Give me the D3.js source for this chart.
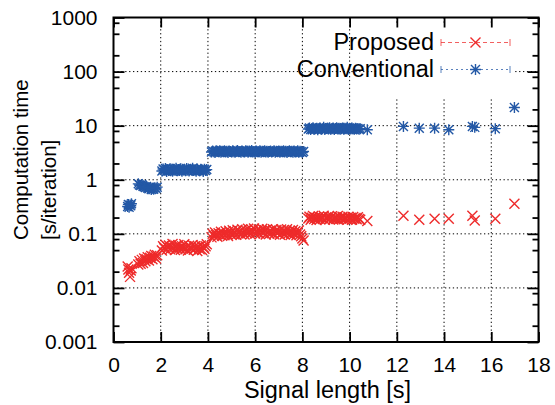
<!DOCTYPE html>
<html>
<head>
<meta charset="utf-8">
<script src="https://cdn.jsdelivr.net/npm/d3@7"></script>
<style>
    body { margin: 0; background: #fff; }
    svg { font-family: "Liberation Sans", Arial, sans-serif; }
</style>
</head>
<body>
<svg id="chart" width="555" height="405"></svg>
<script>
// Signal lengths [s] shared by both methods.
var signalLength = [
    0.6, 0.63, 0.66, 0.7, 0.73, 0.76,
    1.05, 1.1, 1.15, 1.2, 1.25, 1.3, 1.35, 1.4, 1.45, 1.5, 1.55, 1.6, 1.65, 1.7, 1.75, 1.8, 1.85,
    2.05, 2.1, 2.15, 2.2, 2.25, 2.3, 2.35, 2.4, 2.45, 2.5,
    2.55, 2.6, 2.65, 2.7, 2.75, 2.8, 2.85, 2.9, 2.95, 3.0,
    3.05, 3.1, 3.15, 3.2, 3.25, 3.3, 3.35, 3.4, 3.45, 3.5,
    3.55, 3.6, 3.65, 3.7, 3.75, 3.8, 3.85, 3.9, 3.95,
    4.15, 4.2, 4.25, 4.3, 4.35, 4.4, 4.45, 4.5, 4.55, 4.6,
    4.65, 4.7, 4.75, 4.8, 4.85, 4.9, 4.95, 5.0, 5.05, 5.1,
    5.15, 5.2, 5.25, 5.3, 5.35, 5.4, 5.45, 5.5, 5.55, 5.6,
    5.65, 5.7, 5.75, 5.8, 5.85, 5.9, 5.95, 6.0, 6.05, 6.1,
    6.15, 6.2, 6.25, 6.3, 6.35, 6.4, 6.45, 6.5, 6.55, 6.6,
    6.65, 6.7, 6.75, 6.8, 6.85, 6.9, 6.95, 7.0, 7.05, 7.1,
    7.15, 7.2, 7.25, 7.3, 7.35, 7.4, 7.45, 7.5, 7.55, 7.6,
    7.65, 7.7, 7.75, 7.8, 7.85, 7.9, 7.95, 8.0, 8.05,
    8.25, 8.3, 8.35, 8.4, 8.45, 8.5, 8.55, 8.6, 8.65, 8.7,
    8.75, 8.8, 8.85, 8.9, 8.95, 9.0, 9.05, 9.1, 9.15, 9.2,
    9.25, 9.3, 9.35, 9.4, 9.45, 9.5, 9.55, 9.6, 9.65, 9.7,
    9.75, 9.8, 9.85, 9.9, 9.95, 10.0, 10.05, 10.1, 10.15, 10.2,
    10.25, 10.3, 10.35, 10.4, 10.45, 10.75,
    12.28, 12.95, 13.6, 14.2, 15.2, 15.3, 16.17, 16.98
];

// Computation time [s/iteration], proposed method.
var proposedTime = [
    0.025, 0.022, 0.019, 0.016, 0.021, 0.023,
    0.027, 0.031, 0.028, 0.033, 0.029, 0.035, 0.031, 0.034, 0.037, 0.032, 0.036, 0.039, 0.034, 0.038, 0.041, 0.035, 0.040,
    0.049, 0.059, 0.054, 0.063, 0.051, 0.057, 0.061, 0.052, 0.056, 0.065,
    0.055, 0.050, 0.060, 0.053, 0.062, 0.056, 0.051, 0.059, 0.054, 0.064,
    0.052, 0.058, 0.049, 0.060, 0.056, 0.053, 0.062, 0.051, 0.059, 0.055,
    0.048, 0.058, 0.052, 0.061, 0.050, 0.057, 0.053, 0.059, 0.064,
    0.086, 0.100, 0.091, 0.106, 0.095, 0.088, 0.103, 0.097, 0.109, 0.092,
    0.104, 0.094, 0.112, 0.099, 0.091, 0.114, 0.102, 0.095, 0.117, 0.098,
    0.108, 0.096, 0.119, 0.103, 0.112, 0.098, 0.122, 0.106, 0.097, 0.116,
    0.102, 0.124, 0.108, 0.098, 0.119, 0.110, 0.126, 0.101, 0.115, 0.105,
    0.120, 0.099, 0.112, 0.124, 0.103, 0.116, 0.097, 0.121, 0.108, 0.100,
    0.115, 0.104, 0.122, 0.098, 0.110, 0.118, 0.101, 0.113, 0.096, 0.120,
    0.104, 0.117, 0.097, 0.109, 0.121, 0.100, 0.113, 0.095, 0.107, 0.118,
    0.099, 0.112, 0.094, 0.106, 0.115, 0.097, 0.090, 0.082, 0.075,
    0.192, 0.207, 0.183, 0.198, 0.213, 0.188, 0.201, 0.181, 0.196, 0.209,
    0.186, 0.202, 0.194, 0.216, 0.182, 0.199, 0.190, 0.206, 0.187, 0.197,
    0.211, 0.184, 0.195, 0.203, 0.189, 0.214, 0.185, 0.200, 0.193, 0.207,
    0.187, 0.201, 0.194, 0.183, 0.208, 0.191, 0.198, 0.182, 0.204, 0.190,
    0.197, 0.186, 0.202, 0.189, 0.183, 0.172,
    0.216, 0.183, 0.190, 0.190, 0.215, 0.177, 0.190, 0.360
];

// Computation time [s/iteration], conventional method.
var conventionalTime = [
    0.32, 0.35, 0.31, 0.34, 0.33, 0.36,
    0.84, 0.80, 0.78, 0.82, 0.76, 0.74, 0.72, 0.75, 0.70, 0.68, 0.72, 0.66, 0.70, 0.67, 0.71, 0.69, 0.73,
    1.45, 1.58, 1.50, 1.62, 1.42, 1.55, 1.48, 1.60, 1.52, 1.44,
    1.57, 1.50, 1.63, 1.46, 1.54, 1.49, 1.59, 1.43, 1.52, 1.56,
    1.47, 1.61, 1.50, 1.45, 1.55, 1.51, 1.64, 1.48, 1.53, 1.44,
    1.58, 1.50, 1.46, 1.56, 1.52, 1.42, 1.57, 1.49, 1.54,
    3.25, 3.40, 3.30, 3.20, 3.45, 3.35, 3.28, 3.42, 3.22, 3.38,
    3.30, 3.45, 3.25, 3.35, 3.20, 3.40, 3.32, 3.27, 3.44, 3.30,
    3.22, 3.38, 3.46, 3.28, 3.34, 3.21, 3.40, 3.30, 3.26, 3.43,
    3.35, 3.24, 3.41, 3.30, 3.47, 3.26, 3.33, 3.20, 3.39, 3.31,
    3.28, 3.44, 3.23, 3.36, 3.30, 3.42, 3.25, 3.38, 3.21, 3.34,
    3.40, 3.27, 3.32, 3.45, 3.24, 3.36, 3.29, 3.41, 3.22, 3.35,
    3.30, 3.43, 3.26, 3.38, 3.20, 3.33, 3.44, 3.28, 3.36, 3.23,
    3.39, 3.25, 3.31, 3.42, 3.22, 3.35, 3.28, 3.18, 3.33,
    8.7, 9.1, 8.5, 8.9, 9.2, 8.6, 8.8, 9.0, 8.4, 8.9,
    9.1, 8.6, 8.8, 9.3, 8.5, 8.9, 9.0, 8.7, 9.2, 8.6,
    8.8, 9.1, 8.5, 8.9, 9.2, 8.7, 9.0, 8.6, 8.8, 9.1,
    8.6, 9.0, 8.8, 9.3, 8.5, 8.9, 8.7, 9.1, 8.8, 8.6,
    9.0, 8.7, 8.9, 8.6, 8.8, 8.4,
    9.7, 9.0, 9.0, 8.4, 9.7, 9.3, 8.8, 21.7
];

var xTicks = [0, 2, 4, 6, 8, 10, 12, 14, 16, 18];
var yTicks = [0.001, 0.01, 0.1, 1, 10, 100, 1000];
var yTickLabels = ["0.001", "0.01", "0.1", "1", "10", "100", "1000"];
var yMinorTicks = [0.002, 0.005, 0.008, 0.02, 0.05, 0.08, 0.2, 0.5, 0.8,
    2, 5, 8, 20, 50, 80, 200, 500, 800];

var seriesNames = ["Proposed", "Conventional"];
var red = "#ee2b2b";
var blue = "#2358a6";

var plotLeft = 113.5, plotRight = 538.5, plotTop = 17.5, plotBottom = 342;

var svg = d3.select("#chart");
var x = d3.scaleLinear().domain([0, 18]).range([plotLeft, plotRight]);
var y = d3.scaleLog().domain([0.001, 1000]).range([plotBottom, plotTop]);

// Dotted grid.
var grid = svg.append("g")
    .attr("stroke", "#000")
    .attr("stroke-width", 1)
    .attr("stroke-dasharray", "1.3,2.6");
grid.selectAll("line.gx")
    .data(xTicks.slice(1, -1))
    .enter().append("line")
    .attr("x1", d => x(d)).attr("x2", d => x(d))
    .attr("y1", plotTop).attr("y2", plotBottom);
grid.selectAll("line.gy")
    .data(yTicks.slice(1, -1))
    .enter().append("line")
    .attr("x1", plotLeft).attr("x2", plotRight)
    .attr("y1", d => y(d)).attr("y2", d => y(d));

// Opaque key box hides the grid behind the samples.
svg.append("rect")
    .attr("x", 378).attr("y", 25)
    .attr("width", 136).attr("height", 73)
    .attr("fill", "#fff");

function axisStyle(g) {
    g.select(".domain").remove();
    g.selectAll(".tick line").attr("stroke", "#000").attr("stroke-width", 1.8);
    g.selectAll(".tick text")
        .attr("fill", "#000")
        .attr("font-family", "Liberation Sans, Arial, sans-serif")
        .attr("font-size", 21);
}

svg.append("g")
    .attr("transform", "translate(0," + plotBottom + ")")
    .call(d3.axisBottom(x).tickValues(xTicks).tickFormat(d3.format("d"))
        .tickSize(-10).tickPadding(15))
    .call(axisStyle);
svg.append("g")
    .attr("transform", "translate(0," + plotTop + ")")
    .call(d3.axisTop(x).tickValues(xTicks).tickFormat("").tickSize(-10))
    .call(axisStyle);
svg.append("g")
    .attr("transform", "translate(" + plotLeft + ",0)")
    .call(d3.axisLeft(y).tickValues(yTicks).tickFormat((d, i) => yTickLabels[i])
        .tickSize(-11).tickPadding(16))
    .call(axisStyle);
svg.append("g")
    .attr("transform", "translate(" + plotLeft + ",0)")
    .call(d3.axisLeft(y).tickValues(yMinorTicks).tickFormat("").tickSize(-6))
    .call(axisStyle);
svg.append("g")
    .attr("transform", "translate(" + plotRight + ",0)")
    .call(d3.axisRight(y).tickValues(yTicks).tickFormat("").tickSize(-11))
    .call(axisStyle);
svg.append("g")
    .attr("transform", "translate(" + plotRight + ",0)")
    .call(d3.axisRight(y).tickValues(yMinorTicks).tickFormat("").tickSize(-6))
    .call(axisStyle);

svg.append("rect")
    .attr("x", plotLeft).attr("y", plotTop)
    .attr("width", plotRight - plotLeft).attr("height", plotBottom - plotTop)
    .attr("fill", "none").attr("stroke", "#000").attr("stroke-width", 2);

// Point symbols: cross for proposed, asterisk for conventional.
var crossPath = "M-5,-5L5,5M-5,5L5,-5";
var starPath = "M-4.5,-4.5L4.5,4.5M-4.5,4.5L4.5,-4.5M-5.5,0L5.5,0M0,-5.5L0,5.5";

function drawPoints(values, path, color) {
    svg.append("g")
        .selectAll("path")
        .data(values)
        .enter().append("path")
        .attr("transform", (d, i) => "translate(" + x(signalLength[i]) + "," + y(d) + ")")
        .attr("d", path)
        .attr("fill", "none")
        .attr("stroke", color)
        .attr("stroke-width", 1.4);
}
drawPoints(proposedTime, crossPath, red);
drawPoints(conventionalTime, starPath, blue);

// Key.
var key = [
    { name: seriesNames[0], color: red, path: crossPath, dash: "4,3", yPos: 42.5 },
    { name: seriesNames[1], color: blue, path: starPath, dash: "2,3", yPos: 69.5 }
];
key.forEach(function (k) {
    var g = svg.append("g");
    g.append("text")
        .attr("x", 434).attr("y", k.yPos + 7.5)
        .attr("text-anchor", "end")
        .attr("font-size", 23.5)
        .text(k.name);
    g.append("line")
        .attr("x1", 441).attr("x2", 510).attr("y1", k.yPos).attr("y2", k.yPos)
        .attr("stroke", k.color).attr("stroke-width", 1).attr("opacity", 0.75)
        .attr("stroke-dasharray", k.dash);
    [441, 510].forEach(function (px) {
        g.append("line")
            .attr("x1", px).attr("x2", px).attr("y1", k.yPos - 3.5).attr("y2", k.yPos + 3.5)
            .attr("stroke", k.color).attr("stroke-width", 1).attr("opacity", 0.75);
    });
    g.append("path")
        .attr("transform", "translate(475.5," + k.yPos + ")")
        .attr("d", k.path)
        .attr("fill", "none").attr("stroke", k.color).attr("stroke-width", 1.4);
});

// Axis titles.
svg.append("text")
    .attr("x", 327.5).attr("y", 398)
    .attr("text-anchor", "middle")
    .attr("font-size", 23.5)
    .text("Signal length [s]");

var yTitle = svg.append("text")
    .attr("transform", "translate(0,240) rotate(-90)")
    .attr("font-size", 20.5);
yTitle.append("tspan").attr("x", 0).attr("y", 28).text("Computation time");
yTitle.append("tspan").attr("x", 0).attr("y", 56).text("[s/iteration]");
</script>
</body>
</html>
